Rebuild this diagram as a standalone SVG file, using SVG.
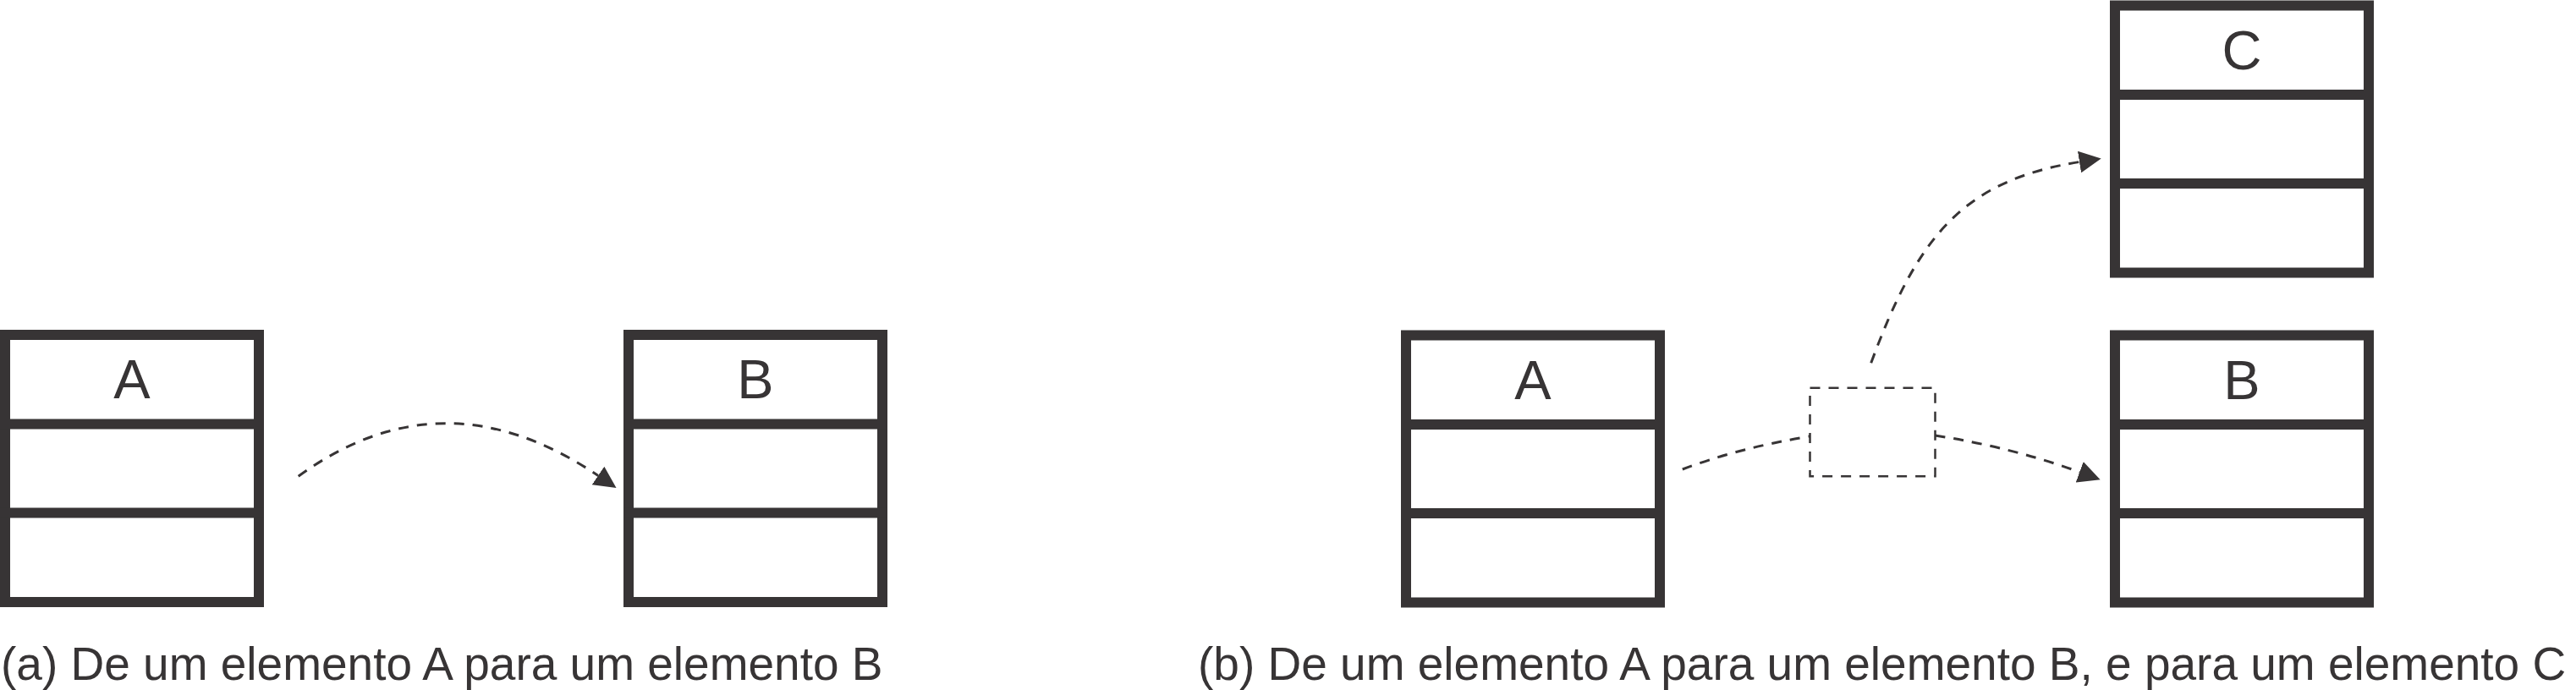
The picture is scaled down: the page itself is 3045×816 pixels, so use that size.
<svg xmlns="http://www.w3.org/2000/svg" width="3045" height="816" viewBox="0 0 3045 816">
  <style>
    .box { fill: #ffffff; stroke: #373435; stroke-width: 12; }
    .div { stroke: #373435; stroke-width: 12; }
    .lbl { font-family: "Liberation Sans", Arial, sans-serif; font-size: 65px; fill: #373435; text-anchor: middle; }
    .cap { font-family: "Liberation Sans", Arial, sans-serif; font-size: 55px; fill: #373435; }
    .conn { fill: none; stroke: #373435; stroke-width: 3; stroke-dasharray: 12 10; }
    .junction { fill: none; stroke: #373435; stroke-width: 2.5; stroke-dasharray: 12 10; }
  </style>
  <defs>
    <marker id="arrow" markerUnits="userSpaceOnUse" markerWidth="26" markerHeight="26" viewBox="0 0 25 25" refX="0" refY="12.5" orient="auto">
      <path d="M0,0 L25,12.5 L0,25 Z" fill="#373435"/>
    </marker>
  </defs>
  <rect width="3045" height="816" fill="#ffffff"/>

  <g id="nodeA-a">
    <rect class="box" x="6" y="396" width="300" height="316"/>
    <line class="div" x1="0" y1="501.5" x2="312" y2="501.5"/>
    <line class="div" x1="0" y1="606.5" x2="312" y2="606.5"/>
    <text class="lbl" x="156" y="471">A</text>
  </g>
  <g id="nodeB-a">
    <rect class="box" x="743" y="396" width="300" height="316"/>
    <line class="div" x1="737" y1="501.5" x2="1049" y2="501.5"/>
    <line class="div" x1="737" y1="606.5" x2="1049" y2="606.5"/>
    <text class="lbl" x="893" y="471">B</text>
  </g>

  <g id="nodeA-b">
    <rect class="box" x="1662" y="396.5" width="300" height="316"/>
    <line class="div" x1="1656" y1="502" x2="1968" y2="502"/>
    <line class="div" x1="1656" y1="607" x2="1968" y2="607"/>
    <text class="lbl" x="1812" y="472">A</text>
  </g>
  <g id="nodeB-b">
    <rect class="box" x="2500" y="396.5" width="300" height="316"/>
    <line class="div" x1="2494" y1="502" x2="2806" y2="502"/>
    <line class="div" x1="2494" y1="607" x2="2806" y2="607"/>
    <text class="lbl" x="2650" y="472">B</text>
  </g>
  <g id="nodeC-b">
    <rect class="box" x="2500" y="6.5" width="300" height="316"/>
    <line class="div" x1="2494" y1="112" x2="2806" y2="112"/>
    <line class="div" x1="2494" y1="217" x2="2806" y2="217"/>
    <text class="lbl" x="2650" y="82">C</text>
  </g>
  <g id="junction">
    <rect class="junction" x="2139.5" y="458.7" width="148" height="104.6"/>
  </g>

  <g id="connectors">
    <path class="conn" d="M352.7,563.3 Q524,438.5 707,562.5" marker-end="url(#arrow)"/>
    <path class="conn" d="M1988.8,555 Q2055,529.8 2139.4,516"/>
    <path class="conn" d="M2287.4,515 Q2378,528.9 2458.2,558.3" marker-end="url(#arrow)"/>
    <path class="conn" d="M2211.7,429.3 C2266.7,279.7 2320,213.5 2458,191.5" marker-end="url(#arrow)"/>
  </g>

  <g id="captions">
    <text class="cap" x="1" y="804">(a) De um elemento A para um elemento B</text>
    <text class="cap" x="1416" y="804">(b) De um elemento A para um elemento B, e para um elemento C</text>
  </g>
</svg>
